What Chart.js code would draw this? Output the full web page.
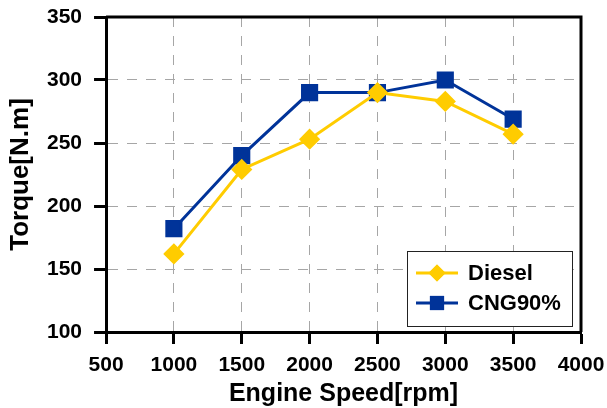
<!DOCTYPE html>
<html>
<head>
<meta charset="utf-8">
<script src="https://cdn.jsdelivr.net/npm/chart.js@4.4.0/dist/chart.umd.min.js"></script>
<style>
  body { margin: 0; background: #fff; }
  #wrap { width: 607px; height: 408px; }
</style>
</head>
<body>
<div id="wrap"><canvas id="torque" width="607" height="408"></canvas></div>
<script>
var speeds = [1000, 1500, 2000, 2500, 3000, 3500];
var dieselTorque = [162, 229, 253, 290, 283, 257];
var cngTorque = [182, 240, 290, 290, 300, 269];
var seriesNames = ['Diesel', 'CNG90%'];

var FONT = "'Liberation Sans', Arial, sans-serif";

function toPoints(values) {
    return speeds.map(function (s, i) { return { x: s, y: values[i] }; });
}

function plain(v) { return String(v); }

// let the layout padding alone decide where the plot area sits
function noOverflow(scale) {
    scale.paddingLeft = 0;
    scale.paddingRight = 0;
    scale.paddingTop = 0;
    scale.paddingBottom = 0;
}

// frame on top/right plus the boxed legend in the lower right corner
var framePlugin = {
    id: 'frame',
    afterDraw: function (chart) {
        var ctx = chart.ctx;
        var a = chart.chartArea;
        ctx.save();
        ctx.strokeStyle = '#000';
        ctx.lineWidth = 3;
        ctx.beginPath();
        ctx.moveTo(a.left, a.top);
        ctx.lineTo(a.right, a.top);
        ctx.lineTo(a.right, a.bottom);
        ctx.stroke();

        // legend
        var bx = a.right - 174, by = a.bottom - 81, bw = 165, bh = 75;
        ctx.fillStyle = '#fff';
        ctx.fillRect(bx, by, bw, bh);
        ctx.lineWidth = 1;
        ctx.strokeStyle = '#222';
        ctx.strokeRect(bx + 0.5, by + 0.5, bw, bh);
        chart.data.datasets.forEach(function (ds, i) {
            var cy = by + 22 + i * 30;
            ctx.strokeStyle = ds.borderColor;
            ctx.lineWidth = 3;
            ctx.beginPath();
            ctx.moveTo(bx + 9, cy);
            ctx.lineTo(bx + 51, cy);
            ctx.stroke();
            ctx.fillStyle = ds.pointBackgroundColor;
            Chart.helpers.drawPoint(ctx, {
                pointStyle: ds.pointStyle,
                radius: ds.pointRadius,
                borderWidth: 0,
                rotation: 0
            }, bx + 30, cy);
            ctx.fill();
            ctx.fillStyle = '#000';
            ctx.font = 'bold 22px ' + FONT;
            ctx.textBaseline = 'middle';
            ctx.textAlign = 'left';
            ctx.fillText(ds.label, bx + 61, cy + 1);
        });
        ctx.restore();
    }
};

new Chart(document.getElementById('torque'), {
    type: 'line',
    data: {
        datasets: [{
            label: seriesNames[0],
            data: toPoints(dieselTorque),
            borderColor: '#FFCC00',
            backgroundColor: '#FFCC00',
            pointBackgroundColor: '#FFCC00',
            pointBorderColor: '#FFCC00',
            pointStyle: 'rectRot',
            pointRadius: 8.5,
            borderWidth: 3,
            tension: 0
        }, {
            label: seriesNames[1],
            data: toPoints(cngTorque),
            borderColor: '#003399',
            backgroundColor: '#003399',
            pointBackgroundColor: '#003399',
            pointBorderColor: '#003399',
            pointStyle: 'rect',
            pointRadius: 10,
            borderWidth: 3,
            tension: 0
        }]
    },
    options: {
        responsive: false,
        animation: false,
        layout: { padding: { top: 17, right: 26, left: 5, bottom: 0 } },
        plugins: {
            legend: { display: false },
            tooltip: { enabled: false }
        },
        scales: {
            x: {
                type: 'linear',
                min: 500,
                max: 4000,
                afterFit: noOverflow,
                ticks: {
                    stepSize: 500,
                    color: '#000',
                    padding: 11,
                    callback: plain,
                    font: { family: FONT, size: 21, weight: 'bold', lineHeight: 1 }
                },
                grid: {
                    color: '#a6a6a6',
                    lineWidth: 1,
                    tickColor: '#000',
                    tickWidth: 3,
                    tickLength: 12
                },
                border: { color: '#000', width: 3, dash: [10, 9] },
                title: {
                    display: true,
                    text: 'Engine Speed[rpm]',
                    color: '#000',
                    padding: { top: -5, bottom: 1 },
                    font: { family: FONT, size: 25, weight: 'bold', lineHeight: 1 }
                }
            },
            y: {
                min: 100,
                max: 350,
                afterFit: noOverflow,
                ticks: {
                    stepSize: 50,
                    color: '#000',
                    padding: 12,
                    callback: plain,
                    font: { family: FONT, size: 21, weight: 'bold', lineHeight: 1 }
                },
                grid: {
                    color: '#a6a6a6',
                    lineWidth: 1,
                    tickColor: '#000',
                    tickWidth: 3,
                    tickLength: 12
                },
                border: { color: '#000', width: 3, dash: [10, 9] },
                title: {
                    display: true,
                    text: 'Torque[N.m]',
                    color: '#000',
                    padding: { top: 3, bottom: 1 },
                    font: { family: FONT, size: 26, weight: 'bold', lineHeight: 1 }
                }
            }
        }
    },
    plugins: [framePlugin]
});
</script>
</body>
</html>
